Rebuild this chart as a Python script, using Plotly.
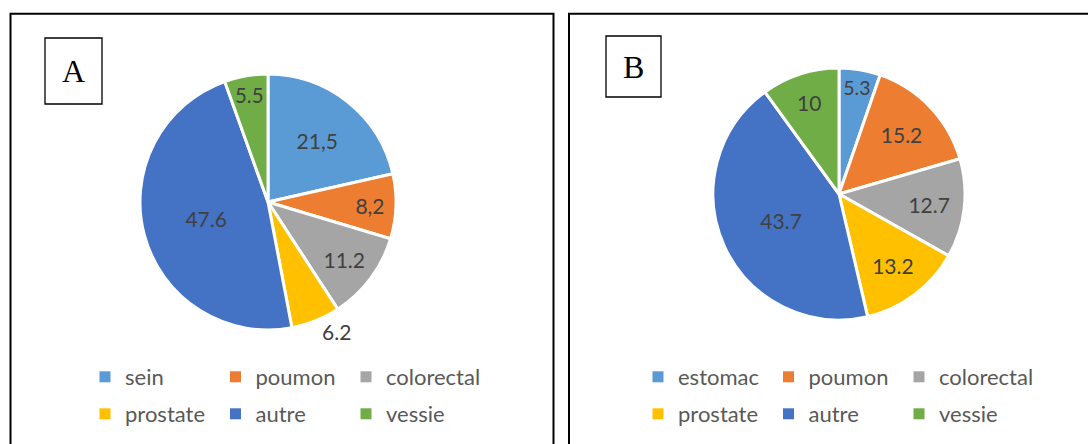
import plotly.graph_objects as go

W, H = 1088, 444

def px(x):
    return x / W

def py(y):
    return 1 - y / H

# ---- data ----
labels_a = ["sein", "poumon", "colorectal", "prostate", "autre", "vessie"]
values_a = [21.5, 8.2, 11.2, 6.2, 47.6, 5.5]
text_a = ["21,5", "8,2", "11.2", "6.2", "47.6", "5.5"]

labels_b = ["estomac", "poumon", "colorectal", "prostate", "autre", "vessie"]
values_b = [5.3, 15.2, 12.7, 13.2, 43.7, 10]
text_b = ["5.3", "15.2", "12.7", "13.2", "43.7", "10"]

colors = ["#5B9BD5", "#ED7D31", "#A5A5A5", "#FFC000", "#4472C4", "#70AD47"]

FONT = "Lato"
LABEL_COLOR = "#404040"
LEGEND_COLOR = "#595959"

fig = go.Figure()

def add_pie(labels, values, text, cx, cy, r, textpos):
    fig.add_trace(go.Pie(
        labels=labels, values=values, text=text,
        textinfo="text", sort=False, direction="clockwise", rotation=0,
        marker=dict(colors=colors, line=dict(color="white", width=3)),
        textposition=textpos,
        insidetextorientation="horizontal",
        textfont=dict(family=FONT, size=21, color=LABEL_COLOR),
        outsidetextfont=dict(family=FONT, size=21, color=LABEL_COLOR),
        domain=dict(x=[px(cx - r), px(cx + r)], y=[py(cy + r), py(cy - r)]),
        showlegend=False, hoverinfo="label+value",
    ))

add_pie(labels_a, values_a, text_a, 268, 202, 128,
        ["inside", "inside", "inside", "outside", "inside", "inside"])
add_pie(labels_b, values_b, text_b, 839, 194, 126, "inside")

# legend entries (3 per row -> one legend per row)
def add_legend_rows(labels, leg_names):
    for i, (lab, col) in enumerate(zip(labels, colors)):
        fig.add_trace(go.Scatter(
            x=[None], y=[None], mode="markers", name=lab,
            marker=dict(symbol="square", size=11, color=col, line=dict(width=0)),
            legend=leg_names[i // 3], showlegend=True, hoverinfo="skip",
            legendwidth=130 if i % 3 == 2 else None,
        ))

add_legend_rows(labels_a, ["legend", "legend2"])
add_legend_rows(labels_b, ["legend3", "legend4"])

def leg(x, y):
    return dict(
        orientation="h", x=px(x), y=py(y), xanchor="left", yanchor="middle",
        entrywidth=85.5, entrywidthmode="pixels",
        font=dict(family=FONT, size=22, color=LEGEND_COLOR),
        bgcolor="rgba(0,0,0,0)", borderwidth=0, itemclick=False, itemdoubleclick=False,
        traceorder="normal",
    )

shapes = [
    dict(type="rect", xref="paper", yref="paper", x0=px(10.5), x1=px(553.5), y0=py(470), y1=py(13.8),
         line=dict(color="black", width=2)),
    dict(type="rect", xref="paper", yref="paper", x0=px(569), x1=px(1110), y0=py(470), y1=py(13.8),
         line=dict(color="black", width=2)),
    dict(type="rect", xref="paper", yref="paper", x0=px(45), x1=px(102), y0=py(104), y1=py(38),
         line=dict(color="black", width=1.3)),
    dict(type="rect", xref="paper", yref="paper", x0=px(606), x1=px(661), y0=py(97), y1=py(36),
         line=dict(color="black", width=1.3)),
]

annotations = [
    dict(text="A", x=px(73.5), y=py(71), xref="paper", yref="paper", showarrow=False,
         font=dict(family="Liberation Serif", size=32, color="black"), xanchor="center", yanchor="middle"),
    dict(text="B", x=px(633.5), y=py(67), xref="paper", yref="paper", showarrow=False,
         font=dict(family="Liberation Serif", size=32, color="black"), xanchor="center", yanchor="middle"),
]

fig.update_layout(
    width=W, height=H, autosize=False,
    margin=dict(l=0, r=0, t=0, b=0),
    paper_bgcolor="white", plot_bgcolor="white",
    xaxis=dict(visible=False), yaxis=dict(visible=False),
    shapes=shapes, annotations=annotations,
    legend=leg(85, 377),
    legend2=leg(85, 414),
    legend3=leg(638, 377),
    legend4=leg(638, 414),
)

fig.write_html(
    "out.html",
    config={"displayModeBar": False},
    post_script="document.body.style.margin='0px';document.body.style.overflow='hidden';",
)
